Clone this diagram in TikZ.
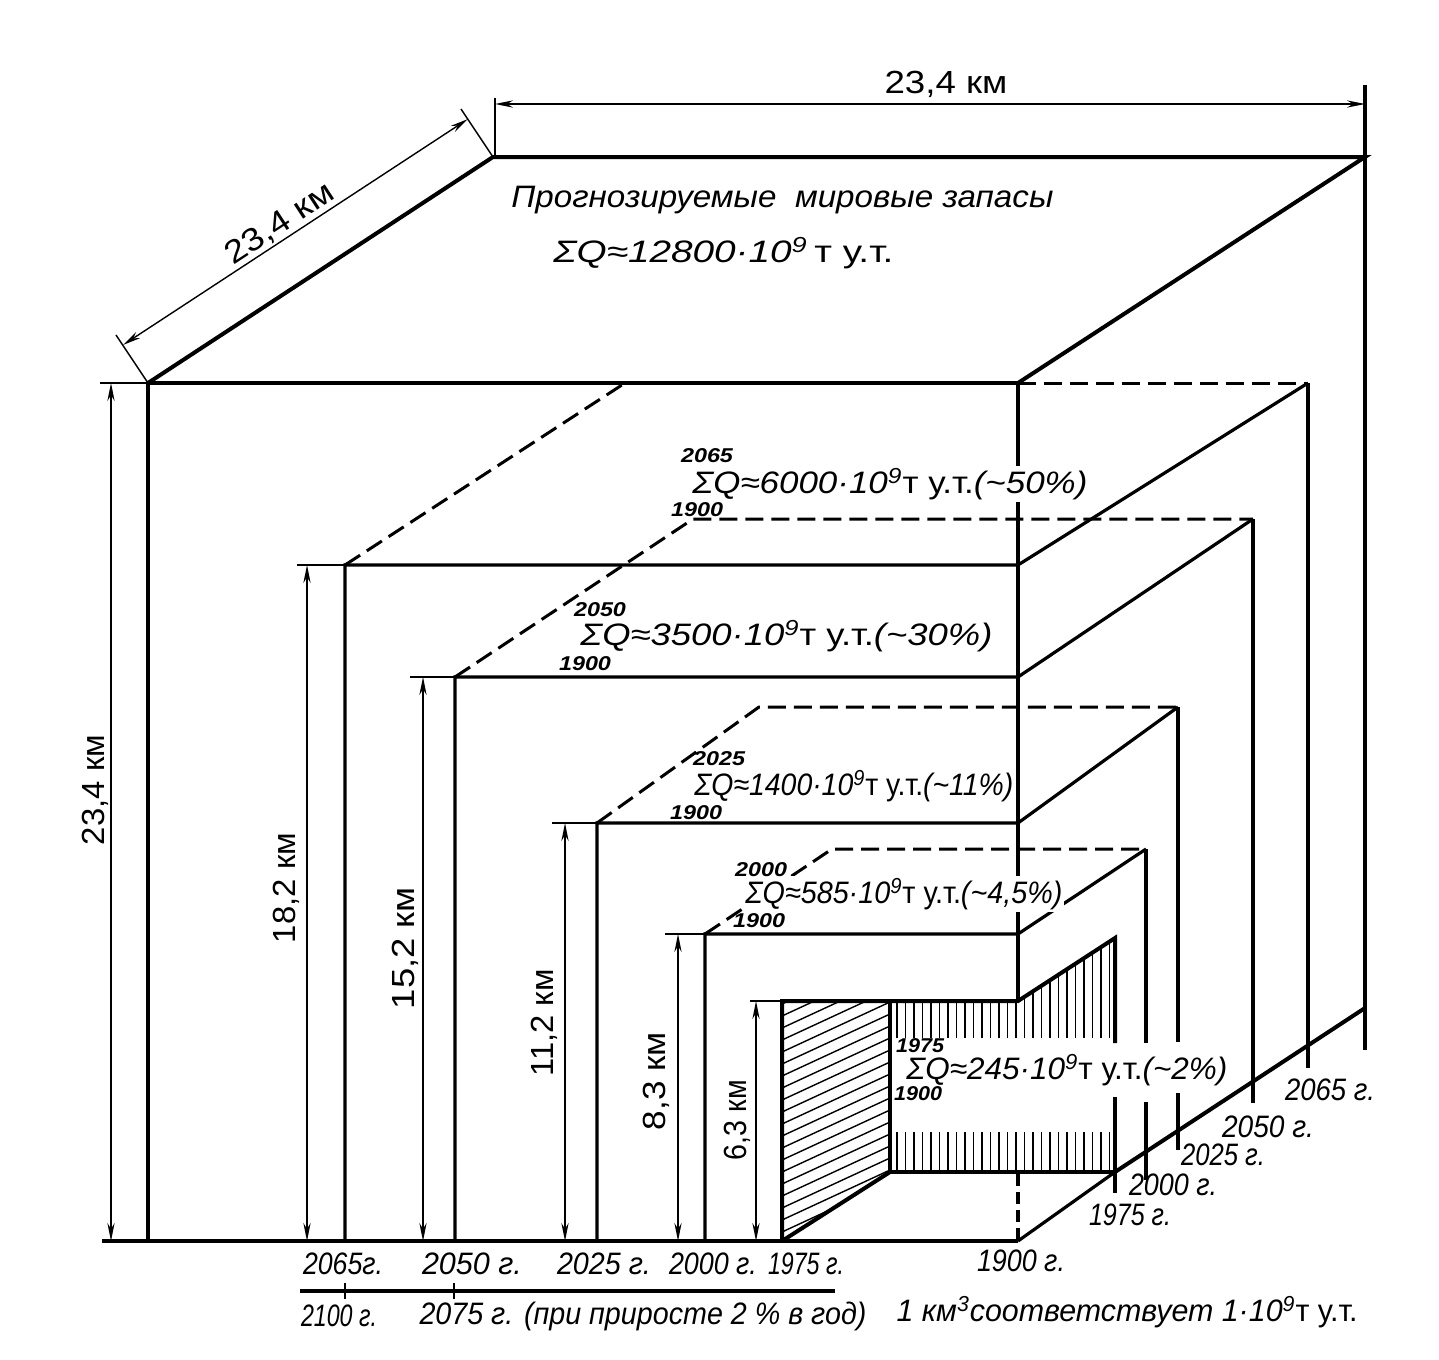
\documentclass[tikz,border=0pt]{standalone}
\usepackage{fontspec}
\setmainfont{Liberation Sans}
\usepackage{graphicx}
\usetikzlibrary{arrows.meta}
\newcommand\fitw[2]{\resizebox{#1}{\height}{#2}}
\newcommand\tut{\textup{т у.т.}}
\begin{document}
\begin{tikzpicture}[x=0.5pt,y=-0.5pt,
  e4/.style={line width=2pt},
  e3/.style={line width=1.6pt},
  hid/.style={line width=1.5pt, dash pattern=on 9pt off 4pt},
  hidv/.style={line width=1.6pt, dash pattern=on 6pt off 3pt},
  thn/.style={line width=0.7pt},
  hatch/.style={line width=0.7pt},
  dim/.style={line width=0.7pt, {Stealth[length=9pt,width=3.6pt]}-{Stealth[length=9pt,width=3.6pt]}},
  lab/.style={font=\itshape\fontsize{15.5}{17}\selectfont, inner sep=0pt},
  dlab/.style={font=\fontsize{16}{18}\selectfont, inner sep=0pt},
  lim/.style={font=\bfseries\itshape\fontsize{10}{11}\selectfont, inner sep=0pt},
  sq/.style={font=\itshape\fontsize{15.5}{17}\selectfont, inner sep=1pt, fill=white, anchor=west}]
\useasboundingbox (0,0) rectangle (1439,1359);
\fill[white] (0,0) rectangle (1439,1359);

% hatching of the 1975 box
\begin{scope}
\clip (782,1001) -- (890,1001) -- (890,1172) -- (782,1241) -- cycle;
\foreach \k in {0,...,20} { \draw[hatch] (782,{1004+12*\k}) -- ++(108,-50); }
\end{scope}
\foreach \xx in {897,905.5,...,1110} {
  \pgfmathsetmacro\yt{\xx<=1018 ? 1001 : 1001-(\xx-1018)*0.6495}
  \draw[hatch] (\xx,\yt) -- (\xx,1038);
  \draw[hatch] (\xx,1132) -- (\xx,1172);
}

% big cube 23.4
\draw[e3] (1365,85) -- (1365,1050);
\draw[e4] (148,1241) -- (148,383) -- (1018,383) -- (1018,1001);
\draw[e4] (148,383) -- (493,157) -- (1365,157) -- (1018,383);
\draw[e4] (1365,157) -- (1365,1008);
\draw[e4] (102,1241) -- (1018,1241);
\draw[hidv] (1018,1174) -- (1018,1241);
\draw[e3] (1018,1241) -- (1115,1172);
\draw[e4] (1115,1172) -- (1365,1008);

% cube 18.2
\draw[e3] (345,1241) -- (345,565) -- (1018,565) -- (1308,383);
\draw[hid] (345,565) -- (625,383);
\draw[hid] (1018,383) -- (1308,383);
\draw[e3] (1308,383) -- (1308,1068);

% cube 15.2
\draw[e3] (455,1241) -- (455,677) -- (1018,677) -- (1253,519);
\draw[hid] (455,677) -- (693,519) -- (1253,519);
\draw[e3] (1253,519) -- (1253,1103);

% cube 11.2
\draw[e3] (597,1241) -- (597,823) -- (1018,823) -- (1178,707);
\draw[hid] (597,823) -- (759,707) -- (1178,707);
\draw[e3] (1178,707) -- (1178,1042) (1178,1093) -- (1178,1150);

% cube 8.3
\draw[e3] (705,1241) -- (705,934) -- (1018,934) -- (1146,849);
\draw[hid] (705,934) -- (832,849) -- (1146,849);
\draw[e3] (1146,849) -- (1146,1043) (1146,1102) -- (1146,1180);

% box 6.3
\draw[e4] (782,1241) -- (782,1001) -- (1018,1001) -- (1115,938) -- (1115,1043);
\draw[e4] (1115,1097) -- (1115,1193);
\draw[e4] (890,1001) -- (890,1172) -- (1115,1172);
\draw[e4] (782,1241) -- (890,1172);

% dimension lines
\draw[thn] (100,383) -- (148,383);
\draw[dim] (111,383) -- (111,1241);
\draw[thn] (297,565) -- (345,565);
\draw[dim] (307,565) -- (307,1241);
\draw[thn] (410,677) -- (455,677);
\draw[dim] (423,677) -- (423,1241);
\draw[thn] (552,823) -- (597,823);
\draw[dim] (565,823) -- (565,1241);
\draw[thn] (665,934) -- (705,934);
\draw[dim] (678,934) -- (678,1241);
\draw[thn] (750,1001) -- (782,1001);
\draw[dim] (756,1001) -- (756,1241);
\draw[thn] (495,98) -- (495,157);
\draw[dim] (495,104) -- (1365,104);
\draw[thn] (148,383) -- (116,335);
\draw[thn] (493,157) -- (461,109);
\draw[dim] (123,345) -- (468,119);

% bottom scale line
\draw[line width=2pt] (300,1291) -- (835,1291);
\draw[thn] (345,1283) -- (345,1299);
\draw[thn] (454,1283) -- (454,1299);

% dimension labels
\node[dlab] (dTop) at (946,84) {\fitw{61.5pt}{23,4 км}};
\node[dlab, rotate=33.2] (dDiag) at (280,224) {\fitw{61.5pt}{23,4 км}};
\node[dlab, rotate=90] (dV1) at (95,790) {\fitw{55pt}{23,4 км}};
\node[dlab, rotate=90] (dV2) at (286,888) {\fitw{55pt}{18,2 км}};
\node[dlab, rotate=90] (dV3) at (405,948) {\fitw{61pt}{15,2 км}};
\node[dlab, rotate=90] (dV4) at (544,1023) {\fitw{53.5pt}{11,2 км}};
\node[dlab, rotate=90] (dV5) at (656,1081) {\fitw{49pt}{8,3 км}};
\node[dlab, rotate=90] (dV6) at (737,1120) {\fitw{40pt}{6,3 км}};

% title texts
\node[lab, anchor=west] (t1) at (511,200) {\fitw{271pt}{Прогнозируемые \ мировые запасы}};
\node[lab, anchor=west] (t2) at (553,253) {\fitw{170pt}{ΣQ≈12800·10\textsuperscript{9}\,\tut}};

% sums
\node[sq] (q6000) at (690,484) {\fitw{197.5pt}{ΣQ≈6000·10\textsuperscript{9}\tut(\textasciitilde50\%)}};
\node[sq] (q3500) at (578,636) {\fitw{206pt}{ΣQ≈3500·10\textsuperscript{9}\tut(\textasciitilde30\%)}};
\node[sq] (q1400) at (692,786) {\fitw{159.5pt}{ΣQ≈1400·10\textsuperscript{9}\tut(\textasciitilde11\%)}};
\node[sq] (q585) at (743,894) {\fitw{158.5pt}{ΣQ≈585·10\textsuperscript{9}\tut(\textasciitilde4,5\%)}};
\node[lab, anchor=west] (q245) at (906,1070) {\fitw{160.5pt}{ΣQ≈245·10\textsuperscript{9}\tut(\textasciitilde2\%)}};

\node[lim] (l6a) at (707,456) {\fitw{26pt}{2065}};
\node[lim] (l6b) at (697,510) {\fitw{26pt}{1900}};
\node[lim] (l3a) at (600,610) {\fitw{26pt}{2050}};
\node[lim] (l3b) at (585,664) {\fitw{26pt}{1900}};
\node[lim] (l1a) at (719,759) {\fitw{26pt}{2025}};
\node[lim] (l1b) at (696,813) {\fitw{26pt}{1900}};
\node[lim] (l5a) at (761,870) {\fitw{26pt}{2000}};
\node[lim] (l5b) at (759,921) {\fitw{26pt}{1900}};
\node[lim] (l2a) at (920,1046) {\fitw{24pt}{1975}};
\node[lim] (l2b) at (918,1094) {\fitw{24pt}{1900}};

% year labels along depth
\node[lab] (y65) at (1330,1090) {\fitw{45pt}{2065 г.}};
\node[lab] (y50) at (1268,1127) {\fitw{46pt}{2050 г.}};
\node[lab] (y25) at (1223,1155) {\fitw{42pt}{2025 г.}};
\node[lab] (y00) at (1173,1185) {\fitw{44pt}{2000 г.}};
\node[lab] (y75) at (1130,1215) {\fitw{41pt}{1975 г.}};

% bottom labels
\node[lab] (b65) at (343,1264) {\fitw{40pt}{2065г.}};
\node[lab] (b50) at (472,1264) {\fitw{50pt}{2050 г.}};
\node[lab] (b25) at (604,1264) {\fitw{47pt}{2025 г.}};
\node[lab] (b00) at (713,1264) {\fitw{44pt}{2000 г.}};
\node[lab] (b75) at (806,1264) {\fitw{38pt}{1975 г.}};
\node[lab] (b1900) at (1021,1261) {\fitw{44pt}{1900 г.}};
\node[lab] (b2100) at (339,1316) {\fitw{38pt}{2100 г.}};
\node[lab] (b2075) at (643,1316) {\fitw{223.5pt}{2075 г. (при приросте 2 \% в год)}};
\node[lab] (note) at (1127,1312) {\fitw{230.5pt}{1 км\textsuperscript{3}соответствует 1·10\textsuperscript{9}\tut}};
\end{tikzpicture}
\end{document}
